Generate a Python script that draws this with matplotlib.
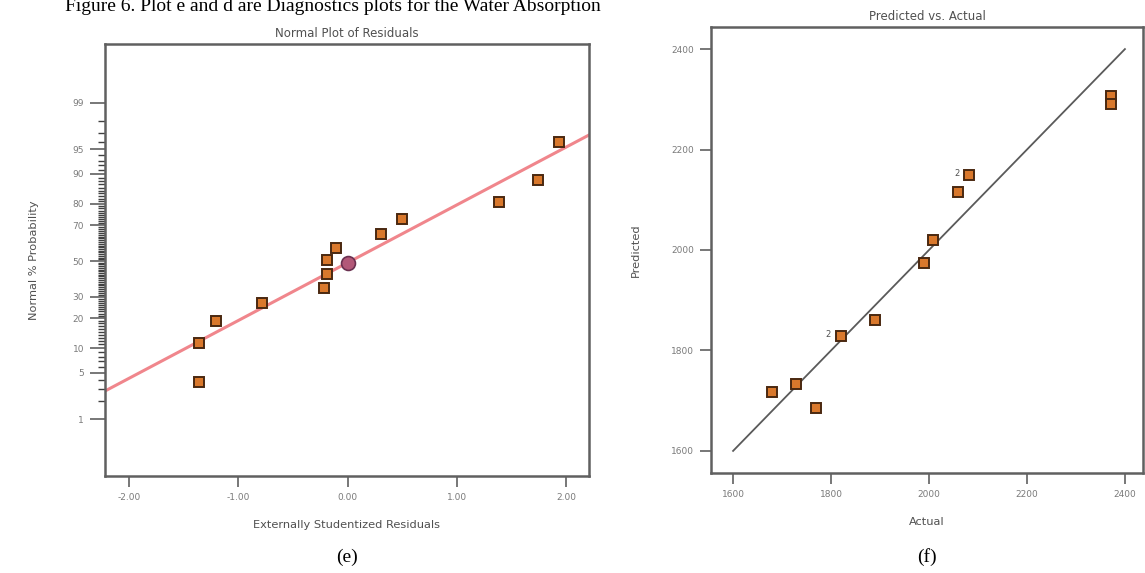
import matplotlib
matplotlib.use("Agg")
import matplotlib.pyplot as plt
from statistics import NormalDist

# ---- data ----
# (e) normal plot of residuals
resid = [-1.36, -1.36, -1.20, -0.78, -0.22, -0.19, -0.19, -0.11, 0.31, 0.50, 1.39, 1.74, 1.94]
resid_prob = [3.8, 11.4, 18.9, 26.8, 34.5, 42.5, 50.5, 57.5, 65.5, 73.2, 80.8, 88.3, 96.0]
center_resid = [0.0]
center_prob = [49.0]
fit_resid = [-2.22, 2.21]
fit_prob = [2.8, 96.8]
prob_ticks = [1, 5, 10, 20, 30, 50, 70, 80, 90, 95, 99]
resid_ticks = [-2.0, -1.0, 0.0, 1.0, 2.0]

# (f) predicted vs actual
actual = [1680, 1729, 1769, 1820, 1890, 1990, 2008, 2059, 2082, 2371, 2371]
predicted = [1717, 1733, 1686, 1829, 1861, 1974, 2020, 2115, 2149, 2306, 2290]
point_counts = ["", "", "", "2", "", "", "", "", "2", "", ""]
ref_line = [1600, 2400]
pva_ticks = [1600, 1800, 2000, 2200, 2400]

nd = NormalDist()
z = lambda p: nd.inv_cdf(p / 100.0)

SANS = "DejaVu Sans"
SPINE = "#606060"
FILL = "#d9782c"
EDGE = "#4a2810"

fig = plt.figure(figsize=(11.45, 5.73), dpi=100)

fig.text(0.057, 0.990, "Figure 6. Plot e and d are Diagnostics plots for the Water Absorption",
         family="Liberation Serif", fontsize=14, ha="left", va="center")


def style(ax):
    for side in ("top", "right", "left", "bottom"):
        ax.spines[side].set_color(SPINE)
        ax.spines[side].set_linewidth(1.8)
    ax.tick_params(direction="out", length=8, width=1.2, color=SPINE,
                   labelsize=6.5, labelcolor="#7a7a7a", pad=4)
    for lab in ax.get_xticklabels() + ax.get_yticklabels():
        lab.set_family(SANS)


# ---- (e) ----
ax1 = fig.add_axes([0.0917, 0.1693, 0.4227, 0.7539])
ax1.plot(fit_resid, [z(p) for p in fit_prob], color="#f0868c", linewidth=2.2, zorder=2)
ax1.plot(resid, [z(p) for p in resid_prob], linestyle="none", marker="s",
         markersize=7, markerfacecolor=FILL, markeredgecolor=EDGE,
         markeredgewidth=1.4, zorder=3)
ax1.plot(center_resid, [z(p) for p in center_prob], linestyle="none", marker="o",
         markersize=10, markerfacecolor="#b25878", markeredgecolor="#6a3050",
         markeredgewidth=1.2, zorder=4)
ax1.set_xlim(-2.22, 2.21)
ax1.set_ylim(-3.16, 3.19)
ax1.set_xticks(resid_ticks)
ax1.set_xticklabels([f"{v:.2f}" for v in resid_ticks])
ax1.set_yticks([z(p) for p in prob_ticks])
ax1.set_yticklabels([str(p) for p in prob_ticks])
ax1.set_yticks([z(p) for p in range(2, 99) if p not in prob_ticks], minor=True)
style(ax1)
ax1.tick_params(axis="y", which="major", length=11)
ax1.tick_params(axis="y", which="minor", length=5, width=1.0, color="#404040")
ax1.set_title("Normal Plot of Residuals", family=SANS, fontsize=8.5, color="#505050", pad=5)
ax1.set_xlabel("Externally Studentized Residuals", family=SANS, fontsize=8.2,
               color="#505050", labelpad=13)
ax1.set_ylabel("Normal % Probability", family=SANS, fontsize=8.2, color="#505050", labelpad=24)
fig.text(0.5 * (0.0917 * 2 + 0.4227), 0.027, "(e)", family="Liberation Serif",
         fontsize=14, ha="center", va="center")

# ---- (f) ----
ax2 = fig.add_axes([0.621, 0.1745, 0.3773, 0.7784])
ax2.plot(ref_line, ref_line, color="#5a5a5a", linewidth=1.3, zorder=2)
ax2.plot(actual, predicted, linestyle="none", marker="s", markersize=7,
         markerfacecolor=FILL, markeredgecolor=EDGE, markeredgewidth=1.4, zorder=3)
for xa, yp, lab in zip(actual, predicted, point_counts):
    if lab:
        ax2.annotate(lab, (xa, yp), xytext=(-7, 1), textcoords="offset points",
                     fontsize=6, color="#505050", ha="right", va="center")
ax2.set_xlim(1555, 2437)
ax2.set_ylim(1556, 2444)
ax2.set_xticks(pva_ticks)
ax2.set_yticks(pva_ticks)
style(ax2)
ax2.set_title("Predicted vs. Actual", family=SANS, fontsize=8.5, color="#505050", pad=5)
ax2.set_xlabel("Actual", family=SANS, fontsize=8.2, color="#505050", labelpad=13)
ax2.set_ylabel("Predicted", family=SANS, fontsize=8.2, color="#505050", labelpad=22)
fig.text(0.5 * (0.621 * 2 + 0.3773), 0.027, "(f)", family="Liberation Serif",
         fontsize=14, ha="center", va="center")

fig.savefig("out.png", dpi=100)
